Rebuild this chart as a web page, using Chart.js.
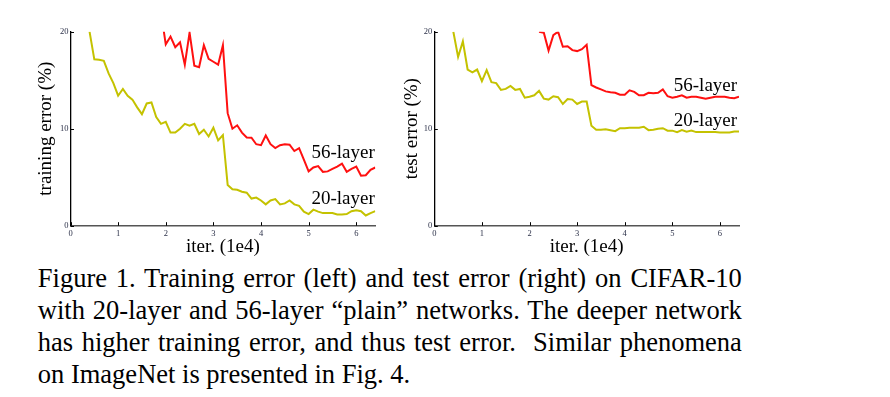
<!DOCTYPE html>
<html>
<head>
<meta charset="utf-8">
<script src="https://cdn.jsdelivr.net/npm/chart.js@4"></script>
<style>
  html, body { margin:0; padding:0; background:#fff; width:890px; height:397px; overflow:hidden; }
  canvas { position:absolute; top:0; }
  #c1 { left:0; }
  #c2 { left:390px; }
  .cap { position:absolute; left:37.8px; top:262.3px; width:704px; font-family:"Liberation Serif", serif; font-size:26.5px; line-height:32px; color:#000; }
  .cap .j { text-align:justify; text-align-last:justify; }
</style>
</head>
<body>
<canvas id="c1" width="400" height="262"></canvas>
<canvas id="c2" width="400" height="262"></canvas>
<div class="cap">
  <div class="j">Figure 1. Training error (left) and test error (right) on CIFAR-10</div>
  <div class="j">with 20-layer and 56-layer “plain” networks. The deeper network</div>
  <div class="j">has higher training error, and thus test error.&nbsp; Similar phenomena</div>
  <div>on ImageNet is presented in Fig. 4.</div>
</div>
<script>
// iterations (1e4)
const iters = [0.4,0.5,0.6,0.7,0.8,0.9,1.0,1.1,1.2,1.3,1.4,1.5,1.6,1.7,1.8,1.9,2.0,2.1,2.2,2.3,2.4,2.5,2.6,2.7,2.8,2.9,3.0,3.1,3.2,3.3,3.4,3.5,3.6,3.7,3.8,3.9,4.0,4.1,4.2,4.3,4.4,4.5,4.6,4.7,4.8,4.9,5.0,5.1,5.2,5.3,5.4,5.5,5.6,5.7,5.8,5.9,6.0,6.1,6.2,6.3,6.4];

// training error (%)
const train20 = [20.0,17.15,17.1,17.0,15.7,14.7,13.4,14.1,13.4,13.0,12.2,11.5,12.6,12.7,11.2,10.5,10.7,9.6,9.6,10.0,10.5,10.3,10.5,9.45,9.9,9.2,10.1,8.8,9.35,4.2,3.75,3.7,3.5,3.4,2.8,2.9,2.6,2.2,2.6,2.75,2.2,2.3,2.6,2.2,2.05,1.45,1.2,1.65,1.45,1.3,1.3,1.3,1.15,1.15,1.2,1.5,1.6,1.5,1.05,1.3,1.5];
const train56 = [null,null,null,null,null,null,null,null,null,null,null,null,null,null,null,22.0,18.7,19.5,18.4,18.9,16.6,19.9,16.5,16.35,18.6,17.2,16.9,16.6,18.6,11.6,10.0,10.35,9.6,9.1,9.07,8.4,8.3,9.3,8.4,8.0,8.3,8.4,8.35,7.7,8.0,6.8,5.6,6.0,6.15,5.55,5.6,5.85,6.1,6.4,5.55,5.85,6.1,5.15,5.2,5.75,6.0];

// test error (%)
const test20 = [20.0,17.4,19.0,16.1,15.8,16.1,14.9,16.05,14.8,14.7,14.0,14.1,14.4,14.0,14.1,13.2,13.3,13.45,13.9,13.1,13.0,13.35,13.25,12.55,13.05,13.0,12.55,12.8,12.8,10.3,9.9,9.9,9.95,9.85,9.75,10.05,10.05,10.1,10.1,10.1,10.2,9.85,9.9,10.0,10.05,9.8,9.8,9.65,9.85,9.7,9.8,9.65,9.65,9.65,9.65,9.65,9.6,9.6,9.6,9.7,9.7];
const test56 = [null,null,null,null,null,null,null,null,null,null,null,null,null,null,null,null,null,null,20.0,19.9,18.05,19.65,20.0,18.45,18.5,18.1,18.0,18.2,18.65,14.5,14.25,14.05,13.85,13.75,13.7,13.5,13.5,13.95,13.8,13.45,13.45,13.7,13.65,13.7,14.05,13.35,13.2,13.3,13.45,13.2,13.3,13.3,13.2,13.1,13.2,13.3,13.3,13.3,13.2,13.15,13.3];

const xTickValues = [0,1,2,3,4,5,6];
const yTickValues = [0,10,20];
const seriesNames = ['20-layer','56-layer'];

const FONT = '"Liberation Serif", "Times New Roman", serif';
const COL20 = '#c4c200';
const COL56 = '#ff1010';

const pts = (ys) => iters.map((x,i) => ({x, y: ys[i]}));

const innerTicks = {
  id: 'innerTicks',
  afterDraw(chart) {
    const {ctx, chartArea, scales} = chart;
    ctx.save();
    ctx.strokeStyle = '#000';
    ctx.lineWidth = 1;
    scales.x.ticks.forEach(t => {
      const px = Math.round(scales.x.getPixelForValue(t.value)) + 0.5;
      ctx.beginPath(); ctx.moveTo(px, chartArea.bottom); ctx.lineTo(px, chartArea.bottom - 3.5); ctx.stroke();
    });
    scales.y.ticks.forEach(t => {
      const py = Math.round(scales.y.getPixelForValue(t.value)) + 0.5;
      ctx.beginPath(); ctx.moveTo(chartArea.left, py); ctx.lineTo(chartArea.left + 3.5, py); ctx.stroke();
    });
    ctx.restore();
  }
};

const seriesLabels = {
  id: 'seriesLabels',
  afterDatasetsDraw(chart, args, opts) {
    const {ctx, scales} = chart;
    ctx.save();
    ctx.fillStyle = '#000';
    ctx.font = '19px ' + FONT;
    ctx.textAlign = 'left';
    ctx.textBaseline = 'alphabetic';
    (opts.items || []).forEach(it => {
      ctx.fillText(it.text, scales.x.getPixelForValue(it.x), scales.y.getPixelForValue(it.y));
    });
    ctx.restore();
  }
};

function makeChart(id, d20, d56, yTitle, pad, yWidth, yTitlePad, labelItems) {
  return new Chart(document.getElementById(id), {
    type: 'line',
    data: {
      datasets: [
        { label: seriesNames[0], data: pts(d20), borderColor: COL20, borderWidth: 2, pointRadius: 0, tension: 0, fill: false },
        { label: seriesNames[1], data: pts(d56), borderColor: COL56, borderWidth: 2, pointRadius: 0, tension: 0, fill: false }
      ]
    },
    options: {
      responsive: false,
      animation: false,
      devicePixelRatio: 1,
      layout: { padding: pad },
      plugins: {
        legend: { display: false },
        tooltip: { enabled: false },
        seriesLabels: { items: labelItems }
      },
      scales: {
        x: {
          type: 'linear', min: 0, max: 6.4,
          afterBuildTicks: s => { s.ticks = xTickValues.map(v => ({value: v})); },
          afterFit: s => { s.height = 262 - 225.7; },
          grid: { display: false, drawTicks: false },
          border: { display: true, color: '#555', width: 1.6 },
          ticks: { padding: 3, color: '#2b3048', font: { family: FONT, size: 8.5 }, maxRotation: 0, autoSkip: false },
          title: { display: true, text: 'iter. (1e4)', color: '#000', font: { family: FONT, size: 19 }, padding: { top: 0, bottom: 3.6 } }
        },
        y: {
          type: 'linear', min: 0, max: 20,
          afterBuildTicks: s => { s.ticks = yTickValues.map(v => ({value: v})); },
          afterFit: s => { s.width = yWidth; },
          grid: { display: false, drawTicks: false },
          border: { display: true, color: '#000', width: 1.3 },
          ticks: { padding: 2, color: '#2b3048', font: { family: FONT, size: 8.5 } },
          title: { display: true, text: yTitle, color: '#000', font: { family: FONT, size: 19 }, padding: { top: yTitlePad, bottom: 0 } }
        }
      }
    },
    plugins: [innerTicks, seriesLabels]
  });
}

makeChart('c1', train20, train56, 'training error (%)',
  { top: 31.7, right: 24.7, left: 0, bottom: 0 }, 70.5, 34.8,
  [ { text: '56-layer', x: 5.06, y: 7.0 }, { text: '20-layer', x: 5.06, y: 2.24 } ]);

makeChart('c2', test20, test56, 'test error (%)',
  { top: 31.7, right: 51, left: 0, bottom: 0 }, 44.3, 10.9,
  [ { text: '56-layer', x: 5.03, y: 13.9 }, { text: '20-layer', x: 5.03, y: 10.28 } ]);
</script>
</body>
</html>
